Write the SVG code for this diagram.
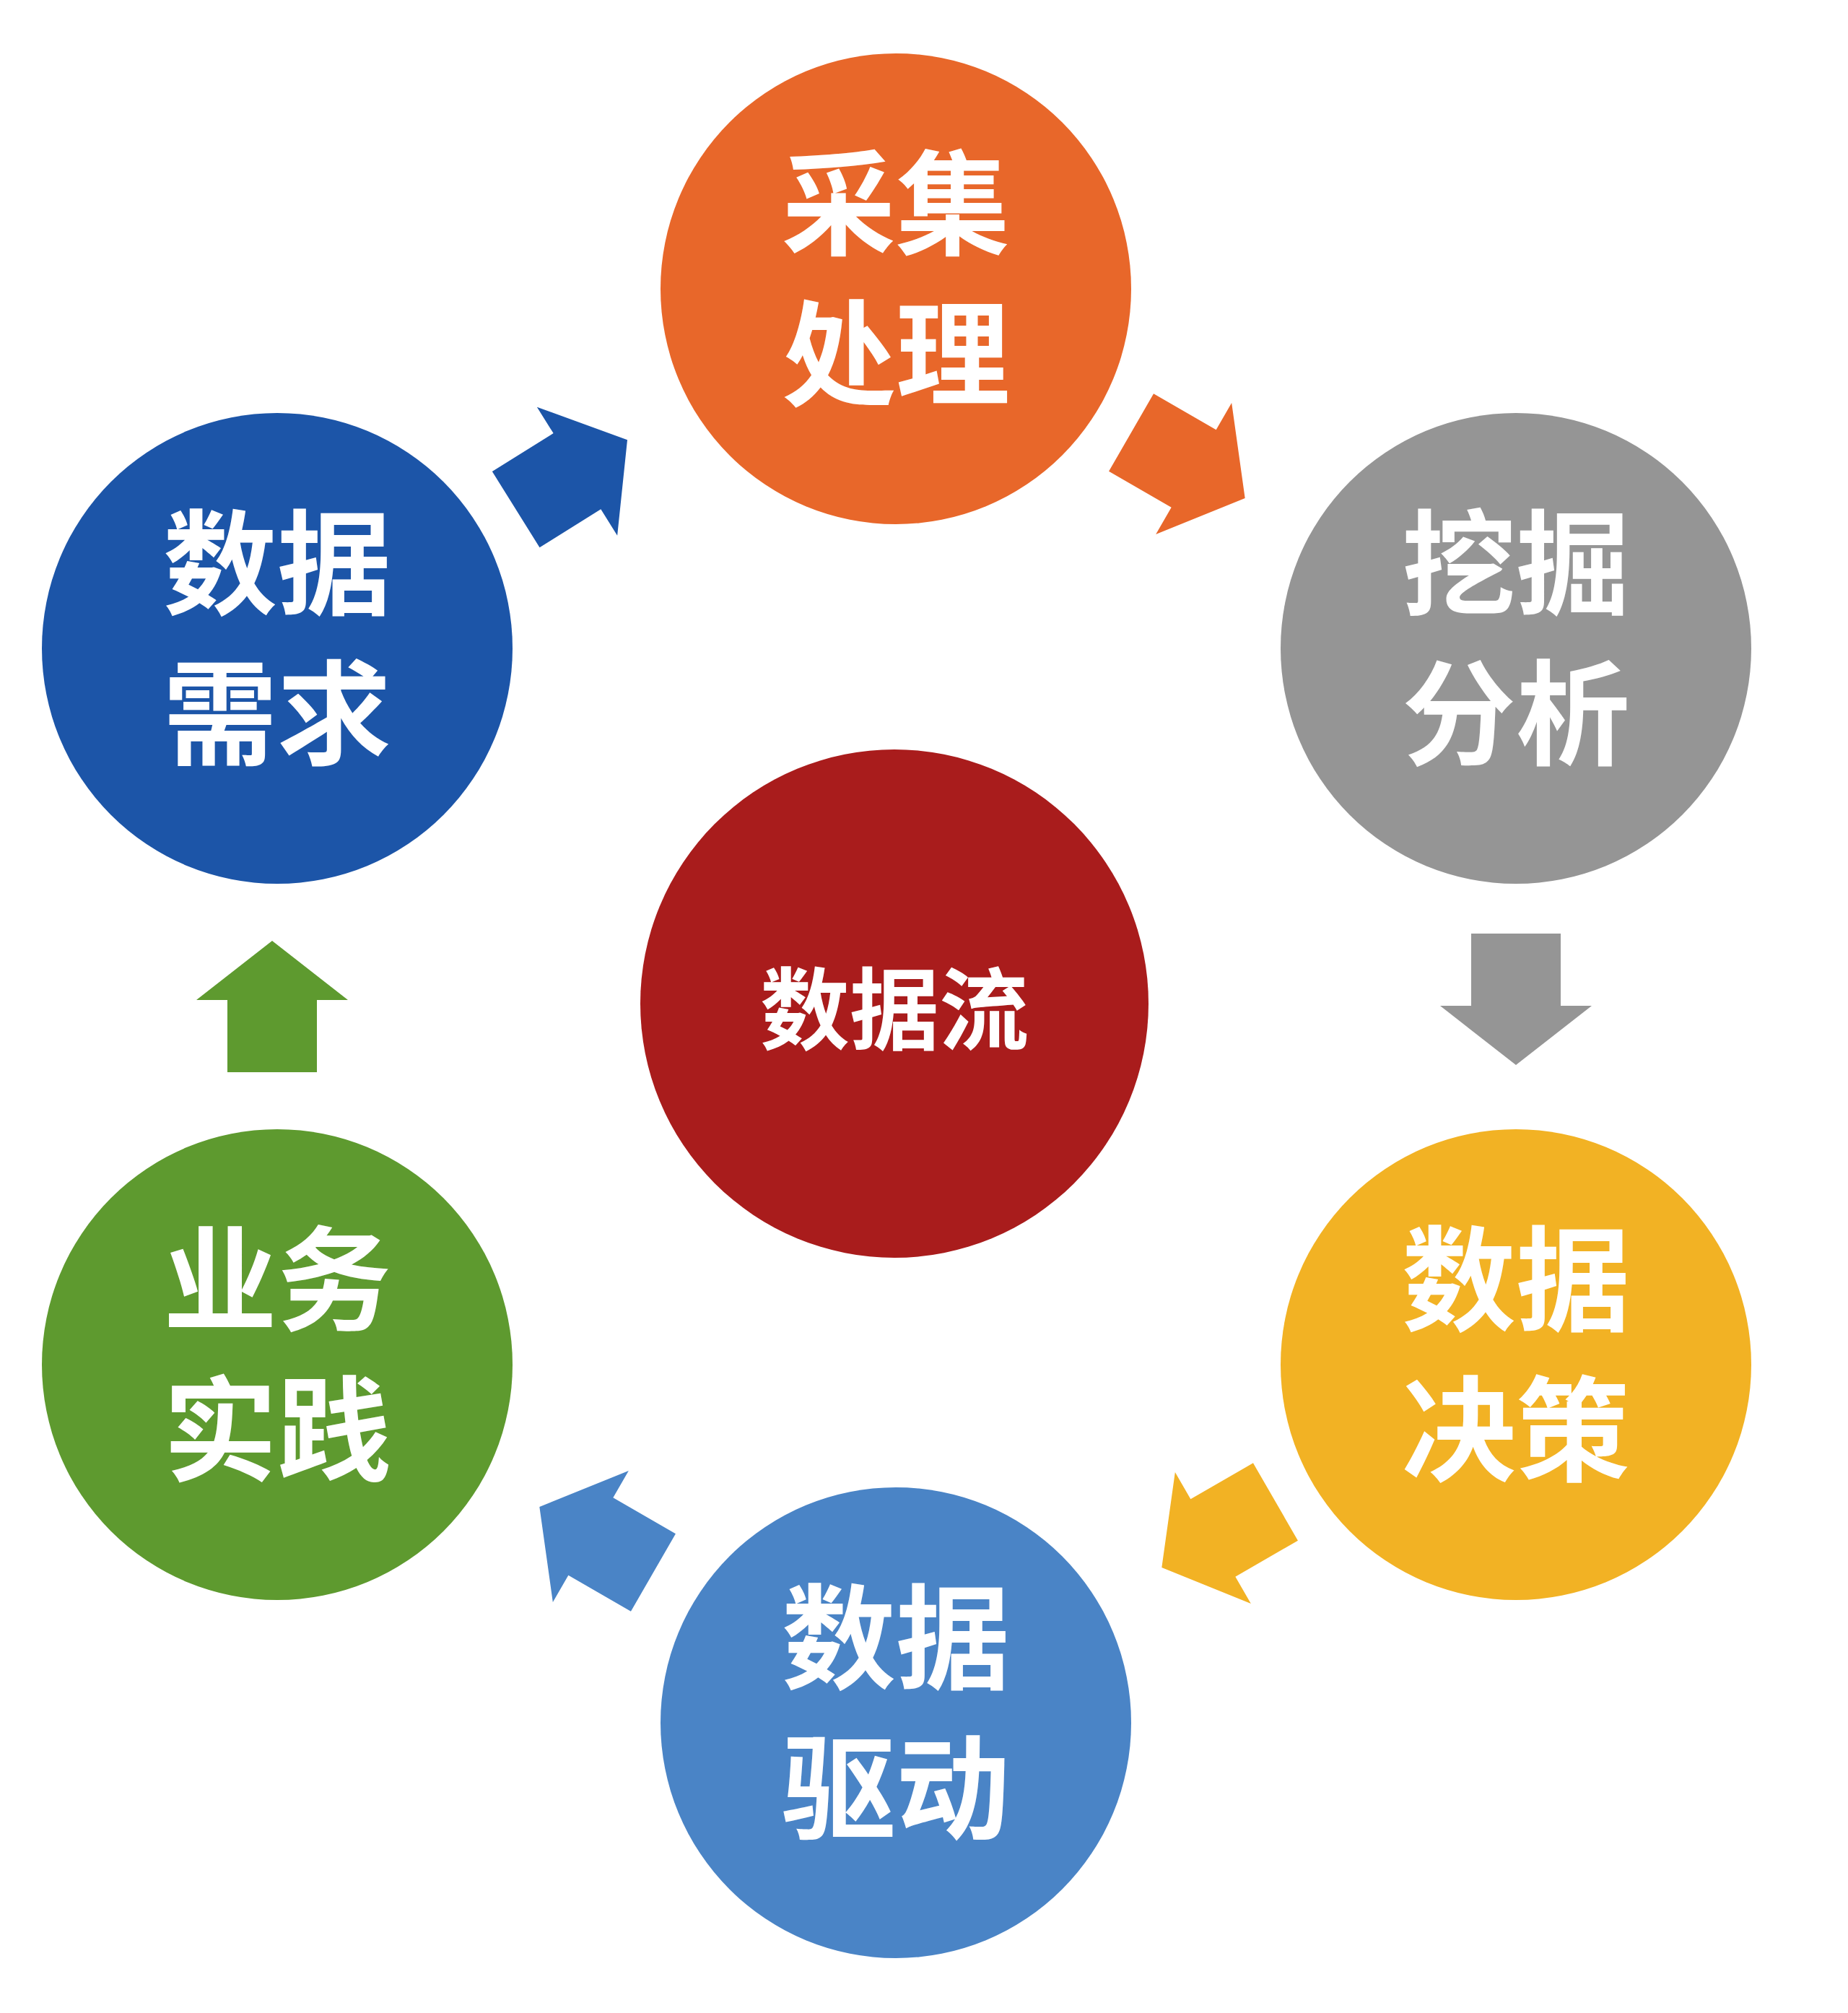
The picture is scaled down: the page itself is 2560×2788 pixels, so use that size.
<svg xmlns="http://www.w3.org/2000/svg" width="2560" height="2788" viewBox="0 0 2560 2788">
<style>
.t{font-family:"Noto Sans CJK SC","Noto Sans",sans-serif;font-weight:bold;fill:#fff;text-anchor:middle;dominant-baseline:central}
.big{font-size:158px}
.mid{font-size:124px}
</style>
<defs>
<path id="arr" d="M-90,-62 L10,-62 L10,-105 L92,0 L10,105 L10,62 L-90,62 Z"/>
</defs>
<rect width="2560" height="2788" fill="#fff"/>
<g id="connectors">
<use href="#arr" fill="#1C55A8" transform="translate(791,658) rotate(-32)"/>
<use href="#arr" fill="#E8672A" transform="translate(1645,644) rotate(30)"/>
<use href="#arr" fill="#959595" transform="translate(2100,1383) rotate(90)"/>
<use href="#arr" fill="#F2B224" transform="translate(1689,2125) rotate(150)"/>
<use href="#arr" fill="#4A84C6" transform="translate(827,2133) rotate(210)"/>
<use href="#arr" fill="#5E9A2F" transform="translate(377,1395) rotate(-90)"/>
</g>
<g id="n1"><circle cx="1241" cy="400" r="326" fill="#E8672A"/><text class="t big" x="1241" y="272">采集</text><text class="t big" x="1241" y="480">处理</text></g>
<g id="n2"><circle cx="2100" cy="898" r="326" fill="#959595"/><text class="t big" x="2100" y="770">挖掘</text><text class="t big" x="2100" y="978">分析</text></g>
<g id="n3"><circle cx="2100" cy="1890" r="326" fill="#F2B224"/><text class="t big" x="2100" y="1762">数据</text><text class="t big" x="2100" y="1970">决策</text></g>
<g id="n4"><circle cx="1241" cy="2386" r="326" fill="#4A84C6"/><text class="t big" x="1241" y="2258">数据</text><text class="t big" x="1241" y="2466">驱动</text></g>
<g id="n5"><circle cx="384" cy="1890" r="326" fill="#5E9A2F"/><text class="t big" x="384" y="1762">业务</text><text class="t big" x="384" y="1970">实践</text></g>
<g id="n6"><circle cx="384" cy="898" r="326" fill="#1C55A8"/><text class="t big" x="384" y="770">数据</text><text class="t big" x="384" y="978">需求</text></g>
<g id="center"><circle cx="1239" cy="1390" r="352" fill="#A91C1C"/><text class="t mid" x="1239" y="1390">数据流</text></g>
</svg>
